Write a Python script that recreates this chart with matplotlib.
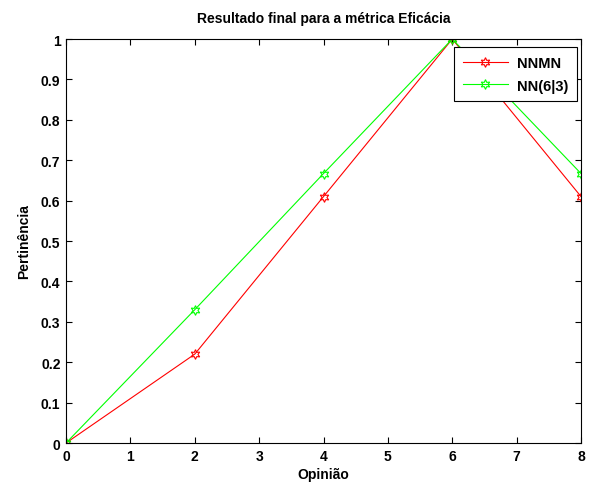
import matplotlib
matplotlib.use("Agg")
import matplotlib.pyplot as plt
import numpy as np

opiniao = [0, 2, 4, 6, 8]
nnmn = [0, 0.22, 0.61, 1.0, 0.61]
nn63 = [0, 0.33, 0.667, 1.0, 0.667]
xticks = list(range(0, 9))
yticks = [round(0.1 * i, 1) for i in range(11)]
yticklabels = ["0", "0.1", "0.2", "0.3", "0.4", "0.5", "0.6", "0.7", "0.8", "0.9", "1"]

plt.rcParams['font.family'] = ['Liberation Sans', 'DejaVu Sans']
plt.rcParams['font.weight'] = 'bold'
plt.rcParams['font.size'] = 10

fig = plt.figure(figsize=(5.91, 4.85), dpi=100)
ax = fig.add_axes([0.1117, 0.0845, 0.8714, 0.833])

star = (6, 1, 0)
ax.plot(opiniao, nnmn, color='#ff0000', lw=0.8, marker=star, ms=7, mfc='none', mec='#ff0000', mew=0.8, label='NNMN')
ax.plot(opiniao, nn63, color='#00ff00', lw=0.8, marker=star, ms=7, mfc='none', mec='#00ff00', mew=0.8, label='NN(6|3)')

ax.set_xlim(0, 8)
ax.set_ylim(0, 1)
ax.set_xticks(xticks)
ax.set_yticks(yticks)
ax.set_yticklabels(yticklabels)
ax.tick_params(direction='in', top=True, right=True, length=4, width=0.8, labelsize=10, pad=4)
for s in ax.spines.values():
    s.set_linewidth(0.8)
ax.set_title('Resultado final para a métrica Eficácia', fontsize=10, fontweight='bold', pad=12)
ax.set_xlabel('Opinião', fontsize=10, fontweight='bold', labelpad=3)
ax.set_ylabel('Pertinência', fontsize=10, fontweight='bold', labelpad=7)

leg = ax.legend(loc='upper right', bbox_to_anchor=(0.992, 0.98), borderaxespad=0, fancybox=False, edgecolor='black', framealpha=1,
                handlelength=3.1, handletextpad=0.6, borderpad=0.6, labelspacing=0.6, prop={'weight': 'bold', 'size': 10.5})
leg.get_frame().set_linewidth(0.8)

fig.savefig('out.png', dpi=100)
